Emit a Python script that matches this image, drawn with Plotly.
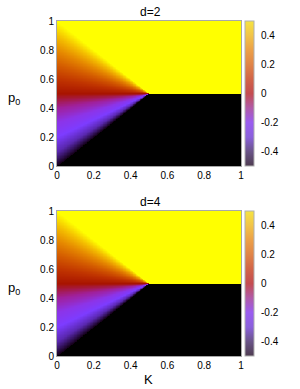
import numpy as np
import plotly.graph_objects as go

# ---- data ----
# Value along the K=0 edge (the field is constant along rays meeting at K=0.5, p0=0.5)
p0_edge = [0.0, 0.1, 0.2, 0.3, 0.4, 0.5, 0.6, 0.7, 0.8, 0.9, 1.0]
val_edge_d2 = [-0.5, -0.4, -0.3, -0.2, -0.1, 0.0, 0.1, 0.2, 0.3, 0.4, 0.5]
val_edge_d4 = [-0.5, -0.4, -0.3, -0.2, -0.1, 0.0, 0.1, 0.2, 0.3, 0.4, 0.5]
K_crit = 0.5
p_crit = 0.5
upper_value = 0.5          # yellow plateau for K > K_crit
titles = ["d=2", "d=4"]
tick_vals = [0, 0.2, 0.4, 0.6, 0.8, 1]
tick_text = ["0", "0.2", "0.4", "0.6", "0.8", "1"]
cb_vals = [-0.4, -0.2, 0, 0.2, 0.4]
cb_text = ["-0.4", "-0.2", "0", "0.2", "0.4"]

# heatmap palette (saturated) and colorbar palette (muted), as seen
heat_scale = [
    [0.00, "#140018"], [0.10, "#5a28b0"], [0.20, "#7d3cff"], [0.30, "#8c34e8"],
    [0.40, "#a0209a"], [0.50, "#a81400"], [0.60, "#c03400"], [0.70, "#d45c00"],
    [0.80, "#e68a00"], [0.90, "#f4c000"], [1.00, "#ffff00"]]
bar_scale = [
    [0.00, "#4e3c50"], [0.10, "#6a5488"], [0.20, "#8a60dc"], [0.30, "#9a5cf0"],
    [0.40, "#b05aa8"], [0.50, "#c44c50"], [0.60, "#d26448"], [0.70, "#e08448"],
    [0.80, "#eca048"], [0.90, "#f2c448"], [1.00, "#f6e440"]]

Kg = np.linspace(0, 1, 241)
Pg = np.linspace(0, 1, 241)


def field(val_edge):
    KK, PP = np.meshgrid(Kg, Pg)
    z = np.full(KK.shape, np.nan)
    left = KK < K_crit
    with np.errstate(divide="ignore", invalid="ignore"):
        p_at_edge = p_crit + (PP - p_crit) * K_crit / (K_crit - KK)
    inside = left & (p_at_edge >= 0)
    z[inside] = np.interp(np.clip(p_at_edge[inside], 0, 1), p0_edge, val_edge)
    z[(~left) & (PP >= p_crit)] = upper_value
    return z


# pixel layout of the 300x389 picture
FW, FH = 300, 389
L, R, T, B = 57, 241, 21, 356
W, H = R - L, B - T


def px(x):
    return (x - L) / W


def py(y):
    return (B - y) / H


fig = go.Figure()
ydoms = [[py(166), py(21)], [py(356), py(211)]]
font = "Liberation Sans, Arial, sans-serif"

for i, ve in enumerate([val_edge_d2, val_edge_d4]):
    xa = "x" if i == 0 else "x2"
    ya = "y" if i == 0 else "y2"
    fig.add_trace(go.Heatmap(x=Kg, y=Pg, z=field(ve), colorscale=heat_scale,
                             zmin=-0.5, zmax=0.5, showscale=False,
                             xaxis=xa, yaxis=ya, hoverinfo="skip"))
    yc = (ydoms[i][0] + ydoms[i][1]) / 2
    fig.add_trace(go.Scatter(
        x=[0.75, 0.75], y=[0.75, 0.75], mode="markers", xaxis=xa, yaxis=ya,
        marker=dict(size=1, opacity=0, color=[-0.5, 0.5], cmin=-0.5, cmax=0.5,
                    colorscale=bar_scale, showscale=True,
                    colorbar=dict(x=px(245), xanchor="left", xpad=0, ypad=0,
                                  y=yc, yanchor="middle", len=145 / H,
                                  lenmode="fraction", thickness=9,
                                  outlinewidth=1, outlinecolor="#b0b0b0",
                                  tickvals=cb_vals, ticktext=cb_text,
                                  ticks="outside", ticklen=5,
                                  tickcolor="rgba(0,0,0,0)",
                                  tickfont=dict(size=10, color="#000", family=font))),
        showlegend=False, hoverinfo="skip"))

axis_common = dict(range=[0, 1], tickvals=tick_vals, ticktext=tick_text,
                   ticks="", showgrid=False, zeroline=False, showline=True,
                   mirror=True, linecolor="#a8a8a8", linewidth=1,
                   automargin=False,
                   tickfont=dict(size=10, color="#000", family=font))

ann_font = dict(family=font, color="#000")


def ann(text, x, y, size):
    return dict(text=text, x=px(x), y=py(y), xref="paper", yref="paper",
                xanchor="center", yanchor="middle", showarrow=False,
                font=dict(size=size, **ann_font))


fig.update_layout(
    width=FW, height=FH,
    margin=dict(l=L, r=FW - R, t=T, b=FH - B, autoexpand=False),
    paper_bgcolor="white", plot_bgcolor="black", showlegend=False,
    xaxis=dict(domain=[0, 1], anchor="y", **axis_common),
    yaxis=dict(domain=ydoms[0], anchor="x", **axis_common),
    xaxis2=dict(domain=[0, 1], anchor="y2", **axis_common),
    yaxis2=dict(domain=ydoms[1], anchor="x2", **axis_common),
    annotations=[
        ann(titles[0], 150, 12, 12),
        ann(titles[1], 150, 202, 12),
        ann("p<sub>0</sub>", 14, 98, 13),
        ann("p<sub>0</sub>", 14, 288, 13),
        ann("K", 148, 379, 13),
    ],
)

fig.write_html("out.html",
               config={"displayModeBar": False},
               post_script="document.body.style.margin='0';"
                           "document.body.style.overflow='hidden';")
